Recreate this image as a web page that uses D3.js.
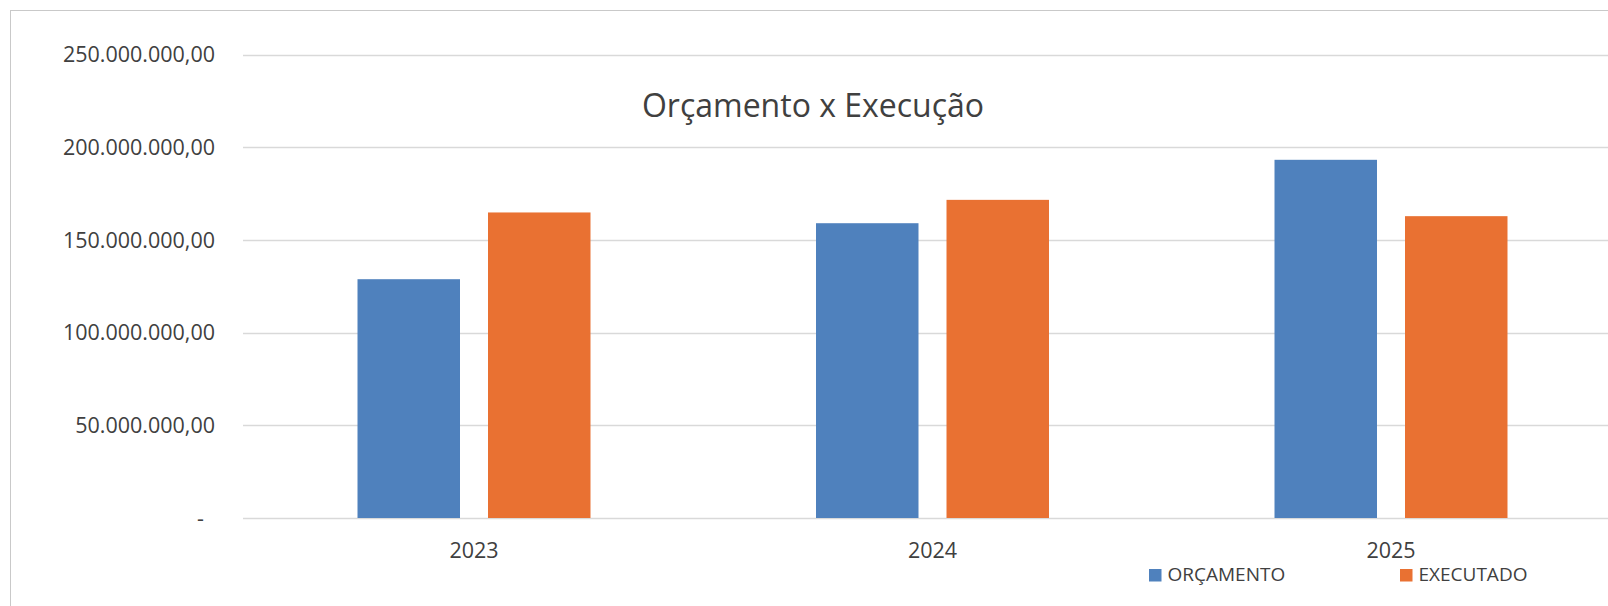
<!DOCTYPE html>
<html>
<head>
<meta charset="utf-8">
<script src="https://cdn.jsdelivr.net/npm/d3@7"></script>
<style>
  body { margin: 0; background: #fff; }
  text { font-family: "Open Sans", "Noto Sans", sans-serif; fill: #404040; }
</style>
</head>
<body>
<div id="chart"></div>
<script>
const years = ["2023", "2024", "2025"];
const seriesNames = ["ORÇAMENTO", "EXECUTADO"];
const orcamento = [128.8e6, 159.0e6, 193.2e6];
const executado = [164.8e6, 171.6e6, 162.8e6];
const yTicks = [0, 50e6, 100e6, 150e6, 200e6, 250e6];
const chartTitle = "Orçamento x Execução";

const width = 1608;
const height = 606;
const colors = { "ORÇAMENTO": "#4f81bd", "EXECUTADO": "#e97132" };

const ptBR = d3.formatLocale({
  decimal: ",",
  thousands: ".",
  grouping: [3],
  currency: ["R$ ", ""],
});
const fmt = (v) => (v === 0 ? "-" : ptBR.format(",.2f")(v));

const rows = years.map((year, i) => ({
  year,
  values: [
    { key: seriesNames[0], value: orcamento[i] },
    { key: seriesNames[1], value: executado[i] },
  ],
}));

const svg = d3
  .select("#chart")
  .append("svg")
  .attr("width", width)
  .attr("height", height);

svg.append("rect")
  .attr("width", width)
  .attr("height", height)
  .attr("fill", "#fff");

// chart area border (runs off the right and bottom of the picture)
svg.append("rect")
  .attr("x", 10.5)
  .attr("y", 10.5)
  .attr("width", width + 100)
  .attr("height", height + 100)
  .attr("fill", "none")
  .attr("stroke", "#c9c9c9");

const x = d3.scaleBand().domain(years).range([244.75, 1620.25]);
const xSub = d3
  .scaleBand()
  .domain(seriesNames)
  .range([0, x.bandwidth()])
  .paddingInner(0.2146)
  .paddingOuter(0.864);

const y = d3.scaleLinear().domain([0, 250e6]).range([518, 54.5]);

// gridlines
svg.append("g")
  .selectAll("line")
  .data(yTicks)
  .join("line")
  .attr("x1", 243)
  .attr("x2", width)
  .attr("y1", (d) => Math.round(y(d)) + 0.5)
  .attr("y2", (d) => Math.round(y(d)) + 0.5)
  .attr("stroke", "#d9d9d9")
  .attr("stroke-width", 1.3);

// y labels
svg.append("g")
  .selectAll("text")
  .data(yTicks)
  .join("text")
  .attr("x", (d) => (d === 0 ? 204 : 215))
  .attr("y", (d) => y(d))
  .attr("dy", "0.36em")
  .attr("text-anchor", "end")
  .style("font-size", "21.5px")
  .text(fmt);

// bars
const groups = svg.append("g")
  .selectAll("g")
  .data(rows)
  .join("g")
  .attr("transform", (d) => `translate(${x(d.year)},0)`);

groups.selectAll("rect")
  .data((d) => d.values)
  .join("rect")
  .attr("x", (d) => xSub(d.key))
  .attr("width", xSub.bandwidth())
  .attr("y", (d) => y(d.value))
  .attr("height", (d) => y(0) - y(d.value))
  .attr("fill", (d) => colors[d.key]);

// x labels
svg.append("g")
  .selectAll("text")
  .data(years)
  .join("text")
  .attr("x", (d) => x(d) + x.bandwidth() / 2)
  .attr("y", 558)
  .attr("text-anchor", "middle")
  .style("font-size", "21.5px")
  .text((d) => d);

// title
svg.append("text")
  .attr("x", 813)
  .attr("y", 117)
  .attr("text-anchor", "middle")
  .style("font-size", "32px")
  .text(chartTitle);

// legend
const legendX = [1149, 1400];
const legend = svg.append("g")
  .selectAll("g")
  .data(seriesNames)
  .join("g")
  .attr("transform", (d, i) => `translate(${legendX[i]}, 569)`);

legend.append("rect")
  .attr("width", 12.5)
  .attr("height", 12.5)
  .attr("fill", (d) => colors[d]);

legend.append("text")
  .attr("x", 18.5)
  .attr("y", 11.5)
  .style("font-size", "19px")
  .text((d) => d);
</script>
</body>
</html>
